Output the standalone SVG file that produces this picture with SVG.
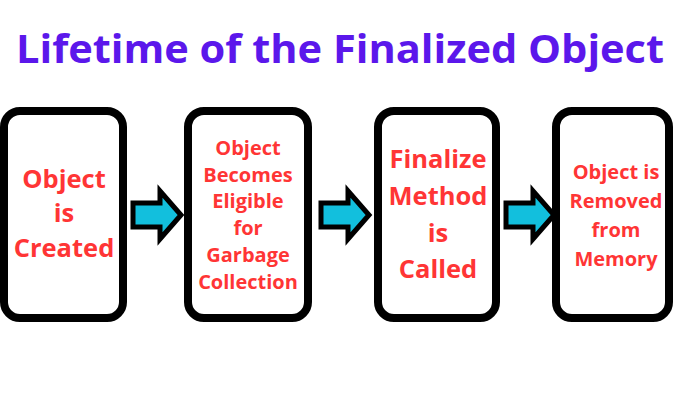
<svg xmlns="http://www.w3.org/2000/svg" width="680" height="400" viewBox="0 0 680 400">
<style>
.box{fill:#fff;stroke:#000;stroke-width:8}
.arr{fill:#12BFDD;stroke:#000;stroke-width:5;stroke-linejoin:miter}
.t{font-family:"Open Sans","Liberation Sans",sans-serif;font-weight:bold;fill:#FF3535;text-anchor:middle}
.big{font-size:25.5px}
.sm{font-size:20px}
.title{font-family:"Open Sans","Liberation Sans",sans-serif;font-weight:bold;font-size:40px;fill:#5B17EB;text-anchor:middle}
</style>
<rect width="680" height="400" fill="#fff"/>
<text class="title" x="340" y="63" textLength="648" lengthAdjust="spacingAndGlyphs">Lifetime of the Finalized Object</text>
<g id="connectors">
<polygon class="arr" points="133,203 160,203 160,191 181,215 160,239 160,227 133,227"/>
<polygon class="arr" points="321,203 348,203 348,191 369,215 348,239 348,227 321,227"/>
<polygon class="arr" points="506,203 533,203 533,191 554,215 533,239 533,227 506,227"/>
</g>
<g id="n1">
<rect class="box" x="4" y="111" width="119" height="207" rx="16"/>
<text class="t big" x="64" y="188">Object</text>
<text class="t big" x="64" y="222">is</text>
<text class="t big" x="64" y="257">Created</text>
</g>
<g id="n2">
<rect class="box" x="188" y="111" width="120" height="207" rx="16"/>
<text class="t sm" x="248" y="155">Object</text>
<text class="t sm" x="248" y="182">Becomes</text>
<text class="t sm" x="248" y="208">Eligible</text>
<text class="t sm" x="248" y="235">for</text>
<text class="t sm" x="248" y="262">Garbage</text>
<text class="t sm" x="248" y="289">Collection</text>
</g>
<g id="n3">
<rect class="box" x="378" y="111" width="118" height="207" rx="16"/>
<text class="t big" x="438" y="168">Finalize</text>
<text class="t big" x="438" y="205">Method</text>
<text class="t big" x="438" y="242">is</text>
<text class="t big" x="438" y="278">Called</text>
</g>
<g id="n4">
<rect class="box" x="556" y="111" width="113" height="207" rx="16"/>
<text class="t sm" x="616" y="179">Object is</text>
<text class="t sm" x="616" y="208">Removed</text>
<text class="t sm" x="616" y="237">from</text>
<text class="t sm" x="616" y="266">Memory</text>
</g>
</svg>
